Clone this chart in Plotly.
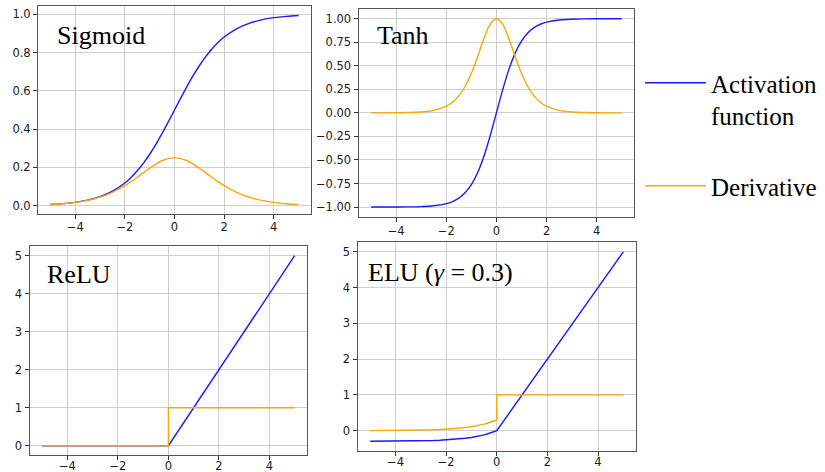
import plotly.graph_objects as go

# ---------------- data ----------------
x_smooth = [-5, -4.5, -4, -3.5, -3, -2.5, -2, -1.75, -1.5, -1.25, -1, -0.75, -0.5, -0.25,
            0, 0.25, 0.5, 0.75, 1, 1.25, 1.5, 1.75, 2, 2.5, 3, 3.5, 4, 4.5, 5]

sigmoid_y = [0.0067, 0.0110, 0.0180, 0.0293, 0.0474, 0.0759, 0.1192, 0.1480, 0.1824, 0.2227,
             0.2689, 0.3208, 0.3775, 0.4378, 0.5, 0.5622, 0.6225, 0.6792, 0.7311, 0.7773,
             0.8176, 0.8520, 0.8808, 0.9241, 0.9526, 0.9707, 0.9820, 0.9890, 0.9933]
sigmoid_d = [0.0066, 0.0109, 0.0177, 0.0285, 0.0452, 0.0701, 0.1050, 0.1261, 0.1491, 0.1731,
             0.1966, 0.2179, 0.2350, 0.2461, 0.25, 0.2461, 0.2350, 0.2179, 0.1966, 0.1731,
             0.1491, 0.1261, 0.1050, 0.0701, 0.0452, 0.0285, 0.0177, 0.0109, 0.0066]

tanh_y = [-0.9999, -0.9998, -0.9993, -0.9982, -0.9951, -0.9866, -0.9640, -0.9414, -0.9051, -0.8483,
          -0.7616, -0.6351, -0.4621, -0.2449, 0.0, 0.2449, 0.4621, 0.6351, 0.7616, 0.8483,
          0.9051, 0.9414, 0.9640, 0.9866, 0.9951, 0.9982, 0.9993, 0.9998, 0.9999]
tanh_d = [0.0002, 0.0005, 0.0013, 0.0036, 0.0099, 0.0266, 0.0707, 0.1138, 0.1807, 0.2805,
          0.4200, 0.5966, 0.7864, 0.9400, 1.0, 0.9400, 0.7864, 0.5966, 0.4200, 0.2805,
          0.1807, 0.1138, 0.0707, 0.0266, 0.0099, 0.0036, 0.0013, 0.0005, 0.0002]

relu_x = [-5, 0, 5]
relu_y = [0, 0, 5]
relu_dx = [-5, 0, 0, 5]
relu_d = [0, 0, 1, 1]

elu_neg_x = [-5, -4.5, -4, -3.5, -3, -2.75, -2.5, -2.25, -2, -1.75, -1.5, -1.25, -1,
             -0.875, -0.75, -0.625, -0.5, -0.375, -0.25, -0.125, 0]
elu_neg_y = [-0.2980, -0.2967, -0.2945, -0.2909, -0.2851, -0.2808, -0.2754, -0.2684, -0.2594,
             -0.2478, -0.2331, -0.2140, -0.1896, -0.1750, -0.1583, -0.1394, -0.1180,
             -0.0938, -0.0664, -0.0353, 0.0]
elu_neg_d = [0.0020, 0.0033, 0.0055, 0.0091, 0.0149, 0.0192, 0.0246, 0.0316, 0.0406,
             0.0521, 0.0669, 0.0860, 0.1104, 0.1250, 0.1417, 0.1606, 0.1820,
             0.2062, 0.2336, 0.2647, 0.3]
elu_x = elu_neg_x + [5]
elu_y = elu_neg_y + [5.0]
elu_dx = elu_neg_x + [0, 5]
elu_d = elu_neg_d + [1.0, 1.0]

titles = ["Sigmoid", "Tanh", "ReLU", "ELU (<i>γ</i> = 0.3)"]
legend_names = ["Activation<br>function", "Derivative"]

x_ticks = [-4, -2, 0, 2, 4]
sig_ticks = [0.0, 0.2, 0.4, 0.6, 0.8, 1.0]
tanh_ticks = [-1.0, -0.75, -0.5, -0.25, 0.0, 0.25, 0.5, 0.75, 1.0]
relu_ticks = [0, 1, 2, 3, 4, 5]
elu_ticks = [0, 1, 2, 3, 4, 5]

# ---------------- style ----------------
W, H = 825, 472
BLUE = "#1a1aff"
ORANGE = "#ffa500"
SERIF = "Liberation Serif, Times New Roman, serif"
SANS = "DejaVu Sans, sans-serif"

def dom_x(a, b):
    return [a / W, b / W]

def dom_y(top, bottom):
    return [1 - bottom / H, 1 - top / H]

fig = go.Figure()

panels = [
    dict(x=x_smooth, y=sigmoid_y, dx=x_smooth, dy=sigmoid_d, shape="spline", xso=-2,
         xd=dom_x(38, 311), yd=dom_y(6, 214), yr=[-0.0430, 1.0430], yt=sig_ticks, fmt=".1f", fs=11.5),
    dict(x=x_smooth, y=tanh_y, dx=x_smooth, dy=tanh_d, shape="spline", xso=0,
         xd=dom_x(358.5, 634.3), yd=dom_y(9.3, 216.5), yr=[-1.1, 1.1], yt=tanh_ticks, fmt=".2f", fs=11.5),
    dict(x=relu_x, y=relu_y, dx=relu_dx, dy=relu_d, shape="linear", xso=-4,
         xd=dom_x(29.5, 307.3), yd=dom_y(246.2, 455.2), yr=[-0.25, 5.25], yt=relu_ticks, fmt="d", fs=11.5),
    dict(x=elu_x, y=elu_y, dx=elu_dx, dy=elu_d, shape="linear", xso=-4,
         xd=dom_x(357.5, 636), yd=dom_y(242.3, 450.8), yr=[-0.5631, 5.2651], yt=elu_ticks, fmt="d", fs=11.5),
]

for i, p in enumerate(panels):
    sfx = "" if i == 0 else str(i + 1)
    fig.add_trace(go.Scatter(
        x=p["x"], y=p["y"], mode="lines", xaxis="x" + sfx, yaxis="y" + sfx,
        line=dict(color=BLUE, width=1.4, shape=p["shape"]),
        name=legend_names[0], legendgroup="act", showlegend=(i == 0), hoverinfo="skip"))
    fig.add_trace(go.Scatter(
        x=p["dx"], y=p["dy"], mode="lines", xaxis="x" + sfx, yaxis="y" + sfx,
        line=dict(color=ORANGE, width=1.4, shape=p["shape"]),
        name=legend_names[1], legendgroup="der", showlegend=(i == 0), hoverinfo="skip"))

axis_common = dict(
    showgrid=True, gridcolor="#cfcfcf", gridwidth=1,
    showline=True, linecolor="#555555", linewidth=1, mirror=True,
    ticks="outside", ticklen=4, tickwidth=1, tickcolor="#333333",
    zeroline=False, automargin=False,
)

layout_axes = {}
for i, p in enumerate(panels):
    sfx = "" if i == 0 else str(i + 1)
    layout_axes["xaxis" + sfx] = dict(
        axis_common, domain=p["xd"], range=[-5.5, 5.5], tickvals=x_ticks,
        anchor="y" + sfx, ticklabelstandoff=p["xso"],
        tickfont=dict(family=SANS, size=p["fs"], color="#1a1a1a"))
    layout_axes["yaxis" + sfx] = dict(
        axis_common, domain=p["yd"], range=p["yr"], tickvals=p["yt"], tickformat=p["fmt"],
        anchor="x" + sfx, tickfont=dict(family=SANS, size=p["fs"], color="#1a1a1a"))

fig.update_layout(**layout_axes)

# panel titles
title_pos = [(55, 35), (375, 35), (45, 274), (366, 272)]
annotations = []
for (px, py), t in zip(title_pos, titles):
    annotations.append(dict(
        text=t, x=px / W, y=1 - py / H, xref="paper", yref="paper",
        xanchor="left", yanchor="middle", showarrow=False,
        font=dict(family=SERIF, size=26, color="#000000")))

fig.update_layout(
    width=W, height=H,
    margin=dict(l=0, r=0, t=0, b=0),
    paper_bgcolor="white", plot_bgcolor="white",
    annotations=annotations,
    showlegend=True,
    legend=dict(
        x=640 / W, y=1 - 60 / H, xanchor="left", yanchor="top",
        font=dict(family=SERIF, size=25, color="#000000"),
        bgcolor="rgba(0,0,0,0)", borderwidth=0,
        itemwidth=61, valign="top",
        traceorder="grouped", tracegroupgap=35,
        itemclick=False, itemdoubleclick=False,
    ),
)

fig.write_html("out.html")
